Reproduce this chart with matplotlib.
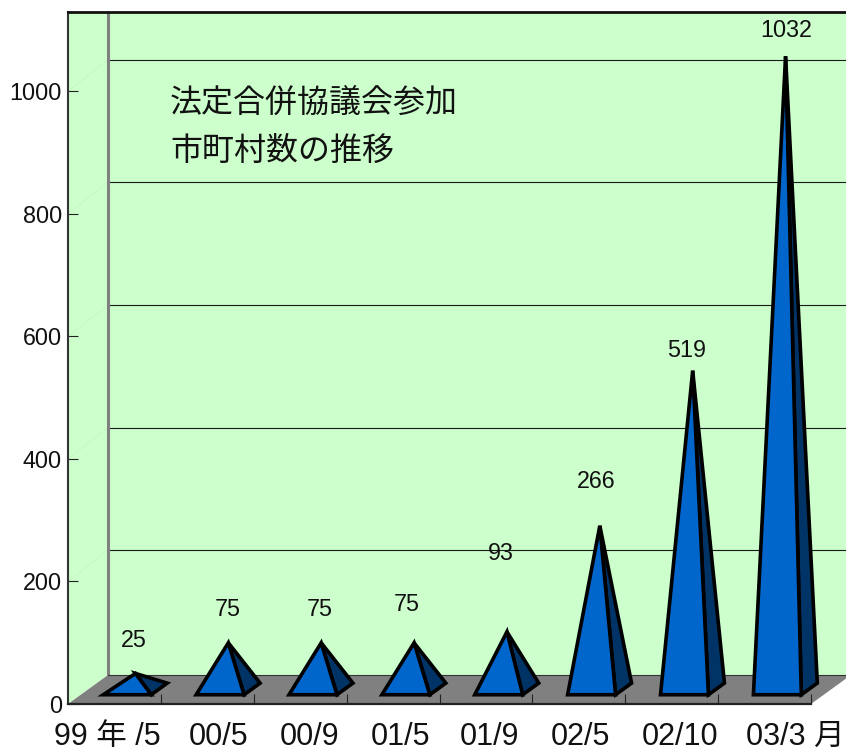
import matplotlib
matplotlib.use("Agg")
import matplotlib.pyplot as plt
from matplotlib.patches import Polygon
from matplotlib.transforms import ScaledTranslation

plt.rcParams["font.family"] = ["Liberation Sans", "Noto Sans CJK JP"]

# Data
periods = ["99 年 /5", "00/5", "00/9", "01/5", "01/9", "02/5", "02/10", "03/3 月"]
municipalities = [25, 75, 75, 75, 93, 266, 519, 1032]
title_lines = ["法定合併協議会参加", "市町村数の推移"]
y_ticks = [0, 200, 400, 600, 800, 1000]

# Hand-placed label nudges, in pixels from the default spot
value_label_nudge = [(-2, 33), (-1, 33), (-1, 33), (-7, 38), (-6, 78), (-4, 44), (-6, 20), (1, 26)]
tick_label_nudge = [-7, 11, 9, 7, 4, 2, 8, 31]

# Box geometry in data units
DEPTH_X = 0.4307
DEPTH_Y = 47.3
GRID_RISE = 51.0
Y_MAX = 1129
X_MIN, X_MAX = -0.5, 7.5
HALF_WIDTH = 0.258
BASE_FRONT, BASE_MID, BASE_BACK = 0.32, 0.525, 0.72

WALL = "#CCFFCC"
FLOOR = "#808080"
FACE = "#0066CC"
SIDE = "#003366"

W, H = 846, 751
fig = plt.figure(figsize=(W / 100, H / 100), dpi=100, facecolor="white")
ax = fig.add_axes([68 / W, (H - 704) / H, (811 - 68) / W, (704 - 12) / H])
ax.set_xlim(X_MIN, X_MAX)
ax.set_ylim(0, Y_MAX)
ax.patch.set_visible(False)


def project(x, y, depth):
    """Shift a front-plane point back into the box by a depth fraction."""
    return (x + depth * DEPTH_X, y + depth * DEPTH_Y)


def shape(points, **kw):
    ax.add_patch(Polygon(points, closed=True, clip_on=False, **kw))


# Side wall, back wall and floor
shape([(X_MIN, 0), (X_MIN, Y_MAX), (X_MIN + DEPTH_X, Y_MAX), project(X_MIN, 0, 1)],
      facecolor=WALL, edgecolor="none", zorder=1)
shape([project(X_MIN, 0, 1), (X_MIN + DEPTH_X, Y_MAX), (X_MAX + DEPTH_X, Y_MAX), project(X_MAX, 0, 1)],
      facecolor=WALL, edgecolor="none", zorder=1)
shape([(X_MIN, 0), (X_MAX, 0), project(X_MAX, 0, 1), project(X_MIN, 0, 1)],
      facecolor=FLOOR, edgecolor="none", zorder=1.5)

# Gridlines on the back wall, with their faint run across the side wall
for v in y_ticks[1:]:
    ax.plot([X_MIN + DEPTH_X, X_MAX + DEPTH_X], [v + GRID_RISE] * 2, color="#1a1a1a",
            lw=0.8, clip_on=False, zorder=1.2)
    ax.plot([X_MIN, X_MIN + DEPTH_X], [v, v + GRID_RISE], color="#C4F6C4",
            lw=0.5, clip_on=False, zorder=1.2)

# Box edges
ax.plot([X_MIN + DEPTH_X] * 2, [DEPTH_Y, Y_MAX], color="#808080", lw=2.2, clip_on=False, zorder=1.6,
        solid_capstyle="butt")
ax.plot([X_MIN + DEPTH_X, X_MAX + DEPTH_X], [DEPTH_Y, DEPTH_Y], color="#333333", lw=0.8,
        clip_on=False, zorder=1.6)
ax.plot([X_MIN, X_MAX + DEPTH_X], [Y_MAX, Y_MAX], color="#111111", lw=2.0, clip_on=False, zorder=3)

# Pyramids
for i, v in enumerate(municipalities):
    front_l = project(i - HALF_WIDTH, 0, BASE_FRONT)
    front_r = project(i + HALF_WIDTH, 0, BASE_FRONT)
    back_r = project(i + HALF_WIDTH, 0, BASE_BACK)
    apex = project(i, v, BASE_MID)
    shape([front_r, back_r, apex], facecolor=SIDE, edgecolor="black", lw=2.6,
          joinstyle="miter", zorder=5)
    shape([front_l, front_r, apex], facecolor=FACE, edgecolor="black", lw=2.6,
          joinstyle="miter", zorder=6)
    ax.annotate(str(v), xy=apex, xycoords="data",
                xytext=value_label_nudge[i], textcoords="offset pixels",
                ha="center", va="center", fontsize=16.8, color="#111111",
                annotation_clip=False, zorder=7)

# Axes frame and ticks
for side in ("top", "right"):
    ax.spines[side].set_visible(False)
ax.spines["left"].set_linewidth(1.5)
ax.spines["left"].set_color("#333333")
ax.spines["bottom"].set_linewidth(1.6)
ax.spines["bottom"].set_color("#222222")

ax.set_yticks(y_ticks)
ax.tick_params(axis="y", direction="in", length=7.2, width=0.8, labelsize=16.8, pad=4.3,
               color="#222222", labelcolor="#111111")

ax.set_xticks(range(len(periods)), periods)
ax.set_xticks([i + 0.5 for i in range(len(periods))], minor=True)
ax.tick_params(axis="x", which="major", length=0, labelsize=22, pad=13, labelcolor="#111111")
ax.tick_params(axis="x", which="minor", direction="in", length=7.2, width=0.8, color="#222222")
for label, nudge in zip(ax.get_xticklabels(), tick_label_nudge):
    label.set_transform(label.get_transform() + ScaledTranslation(nudge / 100, 0, fig.dpi_scale_trans))

# Two-line heading on the back wall
for line, y_px in zip(title_lines, (103, 151)):
    fig.text(170 / W, 1 - y_px / H, line, ha="left", va="center", fontsize=23,
             family=["Noto Sans CJK JP", "Liberation Sans"], color="#111111", zorder=8)

fig.savefig("out.png", dpi=100)
